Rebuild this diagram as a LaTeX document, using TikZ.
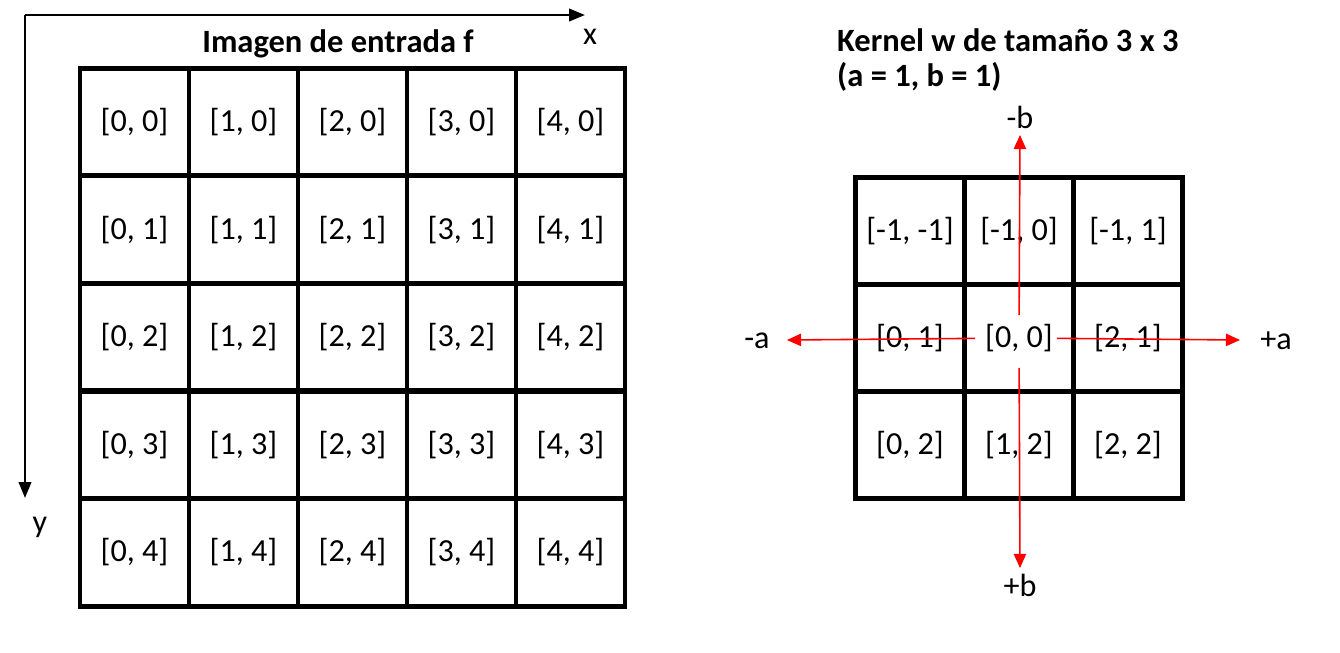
\documentclass[tikz,border=0pt]{standalone}
\usepackage{fontspec}
\setmainfont{Carlito}
\usetikzlibrary{arrows.meta, positioning}

\begin{document}
\begin{tikzpicture}[
    x=0.02cm, y=-0.02cm,
    cell/.style={rectangle, draw, line width=2.8pt, minimum width=2.18cm, minimum height=2.15cm, font=\fontsize{18.3}{22}\selectfont},
    heading/.style={font=\fontsize{18.5}{22}\selectfont\bfseries},
    axis/.style={-{Triangle[length=9pt, width=7pt]}, line width=1.4pt},
    offset/.style={red, line width=0.9pt, -{Triangle[length=8pt, width=7pt]}},
    axislabel/.style={font=\fontsize{18.3}{22}\selectfont}
]
\useasboundingbox (0,0) rectangle (1340,653);

% Axes
\coordinate (origin) at (25,15);
\coordinate (xend) at (585,15);
\coordinate (yend) at (25,498);
\draw[axis] (origin) -- (xend);
\draw[axis] (origin) -- (yend);
\node[axislabel] (xlab) at (590,37) {x};
\node[axislabel] (ylab) at (40,527) {y};

% Titles
\node[heading] (ftitle) at (338,44) {Imagen de entrada f};
\node[heading, anchor=west] (ktitle) at (831,40) {Kernel w de tamaño 3 x 3};
\node[heading, anchor=west] (kparams) at (831,77) {(a = 1, b = 1)};

% Input image f
\foreach \c in {0,...,4}
  \foreach \r in {0,...,4}
    \node[cell] (f\c\r) at (134.5+109*\c, 122+107.6*\r) {[\c, \r]};

% Kernel w
\foreach \lab [count=\i from 0] in {{[-1, -1]},{[-1, 0]},{[-1, 1]},{[0, 1]},{[0, 0]},{[2, 1]},{[0, 2]},{[1, 2]},{[2, 2]}} {
  \pgfmathtruncatemacro{\kc}{mod(\i,3)}
  \pgfmathtruncatemacro{\kr}{int(\i/3)}
  \node[cell, minimum height=2.14cm] (k\kc\kr) at (910+109*\kc, 231+107*\kr) {\lab};
}

% Offsets
\coordinate (bneg) at (1020,135);
\coordinate (bpos) at (1020,568);
\coordinate (aneg) at (787,340);
\coordinate (apos) at (1240,340);
\draw[offset, shorten <=0.46cm] (k11.center) -- (bneg);
\draw[offset, shorten <=0.6cm] (k11.center) -- (bpos);
\draw[offset, shorten <=0.88cm] (k11.center) -- (aneg);
\draw[offset, shorten <=0.76cm] (k11.center) -- (apos);
\node[axislabel] (bneglab) at (1020,117) {-b};
\node[axislabel] (bposlab) at (1020,585) {+b};
\node[axislabel] (aneglab) at (757,341) {-a};
\node[axislabel] (aposlab) at (1276,341) {+a};

\end{tikzpicture}
\end{document}
